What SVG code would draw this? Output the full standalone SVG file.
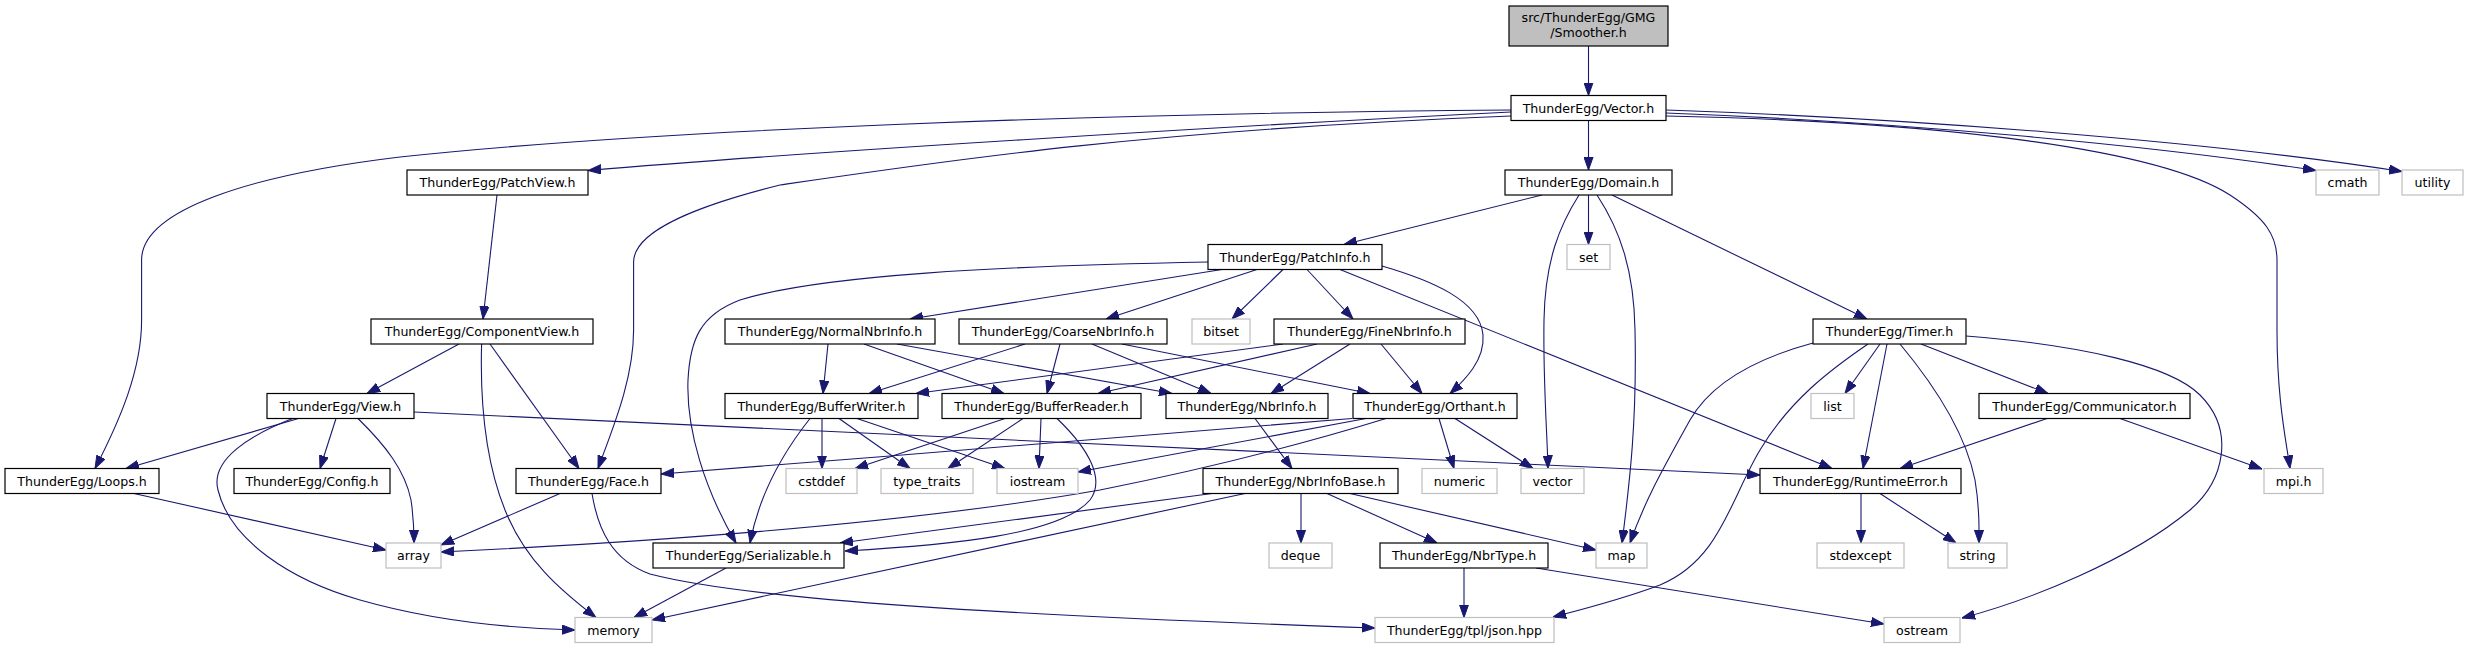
<svg xmlns="http://www.w3.org/2000/svg" width="2468" height="649" viewBox="0 0 2468 649">
<style>
.n rect{fill:#fff;stroke:#000;stroke-width:1.2}
.s rect{fill:#fff;stroke:#bfbfbf;stroke-width:1.2}
.r rect{fill:#bfbfbf;stroke:#000;stroke-width:1.2}
text{font-family:"DejaVu Sans","Liberation Sans",sans-serif;font-size:12.6px;text-anchor:middle;fill:#000}
#edges path{fill:none;stroke:#191970;stroke-width:1.1;marker-end:url(#ah)}
</style>
<defs>
<marker id="ah" markerWidth="13" markerHeight="10" refX="13" refY="5" orient="auto" markerUnits="userSpaceOnUse">
<path d="M0,0.4 L13,5 L0,9.6 z" fill="#191970" stroke="#191970" stroke-width="1"/>
</marker>
</defs>
<rect x="0" y="0" width="2468" height="649" fill="#fff"/>
<g id="edges">
<path d="M1588.5,46 L1588.5,95.5"/>
<path d="M1588.5,120.5 L1588.5,170"/>
<path d="M1588.5,195 L1588.5,244.5"/>
<path d="M1511,110 C1100,113 650,130 400,157 C250,175 141.6,210 141.6,260 L141.6,320 C141.6,370 120,420 95,468.5"/>
<path d="M1511,112 C1250,125 800,152 588,170.5"/>
<path d="M1511,116 C1150,130 950,160 780,185 C700,205 633.6,230 633.6,262 L633.6,330 C633.6,380 612,430 598,468.5"/>
<path d="M1666,113 C1900,122 2150,145 2316,170.5"/>
<path d="M1666,110 C1900,118 2200,140 2402,171.5"/>
<path d="M1666,116 C1950,122 2160,150 2230,195 C2265,218 2277,235 2277,260 L2277,330 C2277,400 2286,440 2290,468.5"/>
<path d="M1542,195 L1344,244.5"/>
<path d="M1579,195 C1560,225 1545,260 1544,320 C1543,380 1547,430 1548,468.5"/>
<path d="M1597,195 C1620,230 1634,270 1635,330 C1637,420 1630,480 1622,543"/>
<path d="M1612,195 L1867,319"/>
<path d="M1208,262 C1000,266 820,275 740,300 C700,315 690,340 688,380 C686,430 705,490 736,543"/>
<path d="M1222,269.5 L910,319"/>
<path d="M1257,269.5 L1106,319"/>
<path d="M1283,269.5 L1232,319"/>
<path d="M1307,269.5 L1353,319"/>
<path d="M1382,266 C1430,280 1480,300 1483,335 C1485,360 1465,380 1450,393.5"/>
<path d="M1340,269.5 L1832,468.5"/>
<path d="M828,344 L823,393.5"/>
<path d="M864,344 L1004,393.5"/>
<path d="M897,344 L1172,393.5"/>
<path d="M1025,344 L869,393.5"/>
<path d="M1060,344 L1047,393.5"/>
<path d="M1092,344 L1211,393.5"/>
<path d="M1122,344 L1370,393.5"/>
<path d="M1283,344 L916,393.5"/>
<path d="M1317,344 L1098,393.5"/>
<path d="M1350,344 L1271,393.5"/>
<path d="M1381,344 L1422,393.5"/>
<path d="M810,418.5 C785,450 760,490 750,543"/>
<path d="M822,418.5 L822,468.5"/>
<path d="M839,418.5 L910,468.5"/>
<path d="M857,418.5 L1005,468.5"/>
<path d="M1005,418.5 L855,468.5"/>
<path d="M1023,418.5 L948,468.5"/>
<path d="M1041,418.5 L1039,468.5"/>
<path d="M1057,418.5 C1090,450 1105,480 1090,500 C1060,535 950,545 845,551"/>
<path d="M1255,418.5 L1292,468.5"/>
<path d="M1439,418.5 L1454,468.5"/>
<path d="M1455,418.5 L1533,468.5"/>
<path d="M1352,418.5 C1200,432 900,455 661,474"/>
<path d="M1366,418.5 L1078,472"/>
<path d="M1386,418.5 C1300,445 1200,470 1100,490 C900,525 650,542 441,552"/>
<path d="M1212,493.5 L840,543"/>
<path d="M1245,493.5 L652,620"/>
<path d="M1301,493.5 L1301,543"/>
<path d="M1327,493.5 L1437,543"/>
<path d="M1350,493.5 L1596,550"/>
<path d="M1464,568 L1464,617.5"/>
<path d="M1536,568 L1884,624"/>
<path d="M560,493.5 L441,545"/>
<path d="M592,493.5 C598,530 612,560 650,574 C750,600 1000,615 1375,628"/>
<path d="M726,568 L634,617.5"/>
<path d="M134,493.5 L386,550"/>
<path d="M459,344 L367,393.5"/>
<path d="M481.6,344 C480,400 485,460 505,510 C525,560 560,590 596,617.5"/>
<path d="M490,344 L579,468.5"/>
<path d="M497,195 L483,319"/>
<path d="M298.5,418.5 L126,468.5"/>
<path d="M336,418.5 L320,468.5"/>
<path d="M358,418.5 C385,445 405,470 411,500 C414,520 414,530 414,543"/>
<path d="M292.6,418.5 C250,435 210,460 218,490 C230,540 290,580 360,600 C430,620 500,628 575,630"/>
<path d="M414,412 L1760,475"/>
<path d="M1813,343 C1750,360 1710,385 1690,420 C1665,465 1645,500 1630,543"/>
<path d="M1868,344 C1830,370 1790,400 1760,450 C1730,500 1720,560 1660,585 C1620,600 1580,610 1553,617"/>
<path d="M1880,344 L1845,393.5"/>
<path d="M1887,344 L1863,468.5"/>
<path d="M1900,344 C1930,380 1965,430 1975,480 C1980,510 1979,525 1979,543"/>
<path d="M1921,344 L2048,393.5"/>
<path d="M1966,336 C2080,345 2170,365 2200,395 C2235,430 2225,480 2190,510 C2130,560 2030,600 1962,618"/>
<path d="M2047,418.5 L1900,468.5"/>
<path d="M2120,418.5 L2262,469"/>
<path d="M1861,493.5 L1861,543"/>
<path d="M1880,493.5 L1956,543"/>
</g>
<g id="node-smoother" class="r"><rect x="1509" y="6" width="159" height="40"/><text x="1588.5" y="22">src/ThunderEgg/GMG</text><text x="1588.5" y="37">/Smoother.h</text></g>
<g id="node-vector" class="n"><rect x="1511" y="95.5" width="155" height="25"/><text x="1588.5" y="112.5">ThunderEgg/Vector.h</text></g>
<g id="node-domain" class="n"><rect x="1505" y="170" width="167" height="25"/><text x="1588.5" y="187">ThunderEgg/Domain.h</text></g>
<g id="node-patchview" class="n"><rect x="407" y="170" width="181" height="25"/><text x="497.5" y="187">ThunderEgg/PatchView.h</text></g>
<g id="node-cmath" class="s"><rect x="2316" y="170" width="63" height="25"/><text x="2347.5" y="187">cmath</text></g>
<g id="node-utility" class="s"><rect x="2402" y="170" width="61" height="25"/><text x="2432.5" y="187">utility</text></g>
<g id="node-patchinfo" class="n"><rect x="1208" y="244.5" width="174" height="25"/><text x="1295" y="261.5">ThunderEgg/PatchInfo.h</text></g>
<g id="node-set" class="s"><rect x="1567" y="244.5" width="43" height="25"/><text x="1588.5" y="261.5">set</text></g>
<g id="node-componentview" class="n"><rect x="371" y="319" width="222" height="25"/><text x="482" y="336">ThunderEgg/ComponentView.h</text></g>
<g id="node-normalnbrinfo" class="n"><rect x="725" y="319" width="210" height="25"/><text x="830" y="336">ThunderEgg/NormalNbrInfo.h</text></g>
<g id="node-coarsenbrinfo" class="n"><rect x="959" y="319" width="208" height="25"/><text x="1063" y="336">ThunderEgg/CoarseNbrInfo.h</text></g>
<g id="node-bitset" class="s"><rect x="1192" y="319" width="58" height="25"/><text x="1221" y="336">bitset</text></g>
<g id="node-finenbrinfo" class="n"><rect x="1274" y="319" width="191" height="25"/><text x="1369.5" y="336">ThunderEgg/FineNbrInfo.h</text></g>
<g id="node-timer" class="n"><rect x="1813" y="319" width="153" height="25"/><text x="1889.5" y="336">ThunderEgg/Timer.h</text></g>
<g id="node-view" class="n"><rect x="267" y="393.5" width="147" height="25"/><text x="340.5" y="410.5">ThunderEgg/View.h</text></g>
<g id="node-bufferwriter" class="n"><rect x="725" y="393.5" width="193" height="25"/><text x="821.5" y="410.5">ThunderEgg/BufferWriter.h</text></g>
<g id="node-bufferreader" class="n"><rect x="942" y="393.5" width="199" height="25"/><text x="1041.5" y="410.5">ThunderEgg/BufferReader.h</text></g>
<g id="node-nbrinfo" class="n"><rect x="1166" y="393.5" width="162" height="25"/><text x="1247" y="410.5">ThunderEgg/NbrInfo.h</text></g>
<g id="node-orthant" class="n"><rect x="1353" y="393.5" width="164" height="25"/><text x="1435" y="410.5">ThunderEgg/Orthant.h</text></g>
<g id="node-list" class="s"><rect x="1811" y="393.5" width="43" height="25"/><text x="1832.5" y="410.5">list</text></g>
<g id="node-communicator" class="n"><rect x="1979" y="393.5" width="211" height="25"/><text x="2084.5" y="410.5">ThunderEgg/Communicator.h</text></g>
<g id="node-loops" class="n"><rect x="5" y="468.5" width="154" height="25"/><text x="82" y="485.5">ThunderEgg/Loops.h</text></g>
<g id="node-config" class="n"><rect x="234" y="468.5" width="156" height="25"/><text x="312" y="485.5">ThunderEgg/Config.h</text></g>
<g id="node-face" class="n"><rect x="516" y="468.5" width="145" height="25"/><text x="588.5" y="485.5">ThunderEgg/Face.h</text></g>
<g id="node-cstddef" class="s"><rect x="786" y="468.5" width="71" height="25"/><text x="821.5" y="485.5">cstddef</text></g>
<g id="node-type_traits" class="s"><rect x="881" y="468.5" width="92" height="25"/><text x="927" y="485.5">type_traits</text></g>
<g id="node-iostream" class="s"><rect x="997" y="468.5" width="81" height="25"/><text x="1037.5" y="485.5">iostream</text></g>
<g id="node-nbrinfobase" class="n"><rect x="1203" y="468.5" width="195" height="25"/><text x="1300.5" y="485.5">ThunderEgg/NbrInfoBase.h</text></g>
<g id="node-numeric" class="s"><rect x="1422" y="468.5" width="75" height="25"/><text x="1459.5" y="485.5">numeric</text></g>
<g id="node-vectorstd" class="s"><rect x="1521" y="468.5" width="63" height="25"/><text x="1552.5" y="485.5">vector</text></g>
<g id="node-runtimeerror" class="n"><rect x="1760" y="468.5" width="201" height="25"/><text x="1860.5" y="485.5">ThunderEgg/RuntimeError.h</text></g>
<g id="node-mpi" class="s"><rect x="2264" y="468.5" width="59" height="25"/><text x="2293.5" y="485.5">mpi.h</text></g>
<g id="node-array" class="s"><rect x="386" y="543" width="55" height="25"/><text x="413.5" y="560">array</text></g>
<g id="node-serializable" class="n"><rect x="653" y="543" width="191" height="25"/><text x="748.5" y="560">ThunderEgg/Serializable.h</text></g>
<g id="node-deque" class="s"><rect x="1269" y="543" width="63" height="25"/><text x="1300.5" y="560">deque</text></g>
<g id="node-nbrtype" class="n"><rect x="1380" y="543" width="168" height="25"/><text x="1464" y="560">ThunderEgg/NbrType.h</text></g>
<g id="node-map" class="s"><rect x="1596" y="543" width="51" height="25"/><text x="1621.5" y="560">map</text></g>
<g id="node-stdexcept" class="s"><rect x="1817" y="543" width="87" height="25"/><text x="1860.5" y="560">stdexcept</text></g>
<g id="node-string" class="s"><rect x="1948" y="543" width="59" height="25"/><text x="1977.5" y="560">string</text></g>
<g id="node-memory" class="s"><rect x="575" y="617.5" width="77" height="25"/><text x="613.5" y="634.5">memory</text></g>
<g id="node-json" class="s"><rect x="1375" y="617.5" width="179" height="25"/><text x="1464.5" y="634.5">ThunderEgg/tpl/json.hpp</text></g>
<g id="node-ostream" class="s"><rect x="1884" y="617.5" width="76" height="25"/><text x="1922" y="634.5">ostream</text></g>
</svg>
